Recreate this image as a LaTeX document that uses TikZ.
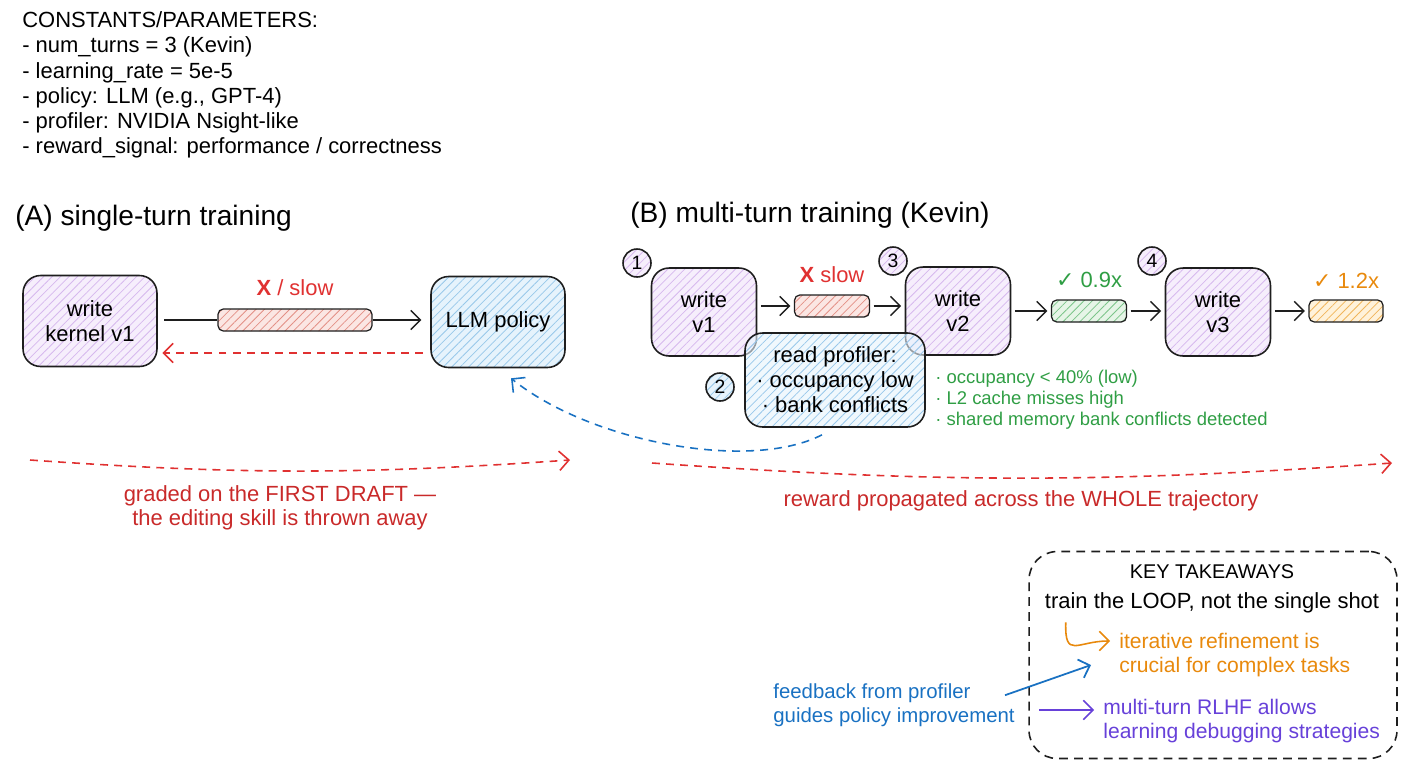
\documentclass[tikz,border=0pt]{standalone}
\usepackage{fontspec}
\setmainfont{Liberation Sans}
\newfontfamily\symfont{DejaVu Sans}
\usetikzlibrary{arrows.meta, positioning, calc, patterns.meta}
\definecolor{ink}{HTML}{1E1E1E}
\definecolor{bad}{HTML}{C92A2A}
\definecolor{alarm}{HTML}{E03131}
\definecolor{good}{HTML}{2F9E44}
\definecolor{warm}{HTML}{E8890C}
\definecolor{cool}{HTML}{1971C2}
\definecolor{violet}{HTML}{6741D9}
\definecolor{palepurple}{HTML}{F6EEFC}
\definecolor{hatchpurple}{HTML}{D6B8EE}
\definecolor{paleblue}{HTML}{E6F3FC}
\definecolor{hatchblue}{HTML}{98C8EA}
\definecolor{palered}{HTML}{FBE6E3}
\definecolor{hatchred}{HTML}{E39086}
\definecolor{palegreen}{HTML}{E6F5E7}
\definecolor{hatchgreen}{HTML}{7CC58A}
\definecolor{paleorange}{HTML}{FFF2DA}
\definecolor{hatchorange}{HTML}{F1B55A}

\begin{document}
\begin{tikzpicture}[x=0.02cm, y=-0.02cm,
  box/.style={draw=ink, line width=0.9pt, rounded corners=10pt, align=center,
              font=\fontsize{12.5}{14.3}\selectfont,
              minimum width=2.1cm, minimum height=1.76cm},
  hatch/.style 2 args={preaction={fill=#1},
              pattern={Lines[angle=45,distance=3.4pt,line width=0.45pt]},
              pattern color=#2},
  bar/.style={draw=ink, line width=0.7pt, rounded corners=3pt, inner sep=0pt,
              minimum width=1.5cm, minimum height=0.44cm},
  badge/.style={circle, draw=ink, line width=0.9pt, minimum size=0.56cm,
              inner sep=0pt, font=\fontsize{11}{13}\selectfont},
  arr/.style={-{Straight Barb[length=5.5pt,width=11pt]}, line width=0.8pt},
  dashy/.style={dash pattern=on 4.5pt off 3.5pt, line width=0.9pt},
  note/.style={inner sep=0pt, align=left, font=\fontsize{12}{13.6}\selectfont}
]
  \useasboundingbox (0,0) rectangle (1408,768);

  % Constants
  \node[note, anchor=west, font=\fontsize{12.5}{14.3}\selectfont] (consts) at (22,85)
        {CONSTANTS/PARAMETERS:\\- num\_turns = 3 (Kevin)\\- learning\_rate = 5e-5\\
         - policy: LLM (e.g., GPT-4)\\- profiler: NVIDIA Nsight-like\\
         - reward\_signal: performance / correctness};

  % (A) single-turn
  \node[anchor=west, inner sep=0pt, font=\fontsize{16}{19}\selectfont] (titleA) at (15,218)
        {(A) single-turn training};
  \node[box, hatch={palepurple}{hatchpurple}, minimum width=2.68cm, minimum height=1.82cm]
        (kernel) at (90,321) {write\\kernel v1};
  \node[box, hatch={paleblue}{hatchblue}, minimum width=2.68cm, minimum height=1.82cm]
        (llm) at (498,322) {LLM policy};
  \node[bar, hatch={palered}{hatchred}, minimum width=3.08cm] (barA) at (295,320) {};
  \node[above=0.12cm of barA, text=alarm, font=\fontsize{12.5}{14}\selectfont] (slowA)
        {\textbf{X} / slow};
  \draw[line width=0.8pt, ink, shorten <=4pt] (kernel.east |- barA) -- (barA.west);
  \draw[arr, ink, shorten >=5pt] (barA.east) -- (llm.west |- barA);
  \draw[arr, alarm, dashy] ($(llm.west)+(-7,31)$) -- ($(kernel.east)+(5,32)$);

  % (B) multi-turn
  \node[anchor=west, inner sep=0pt, font=\fontsize{16}{19}\selectfont] (titleB) at (630,215)
        {(B) multi-turn training (Kevin)};
  \node[box, hatch={palepurple}{hatchpurple}] (v1) at (704,312) {write\\v1};
  \node[box, hatch={palepurple}{hatchpurple}] (v2) at (958,311) {write\\v2};
  \node[box, hatch={palepurple}{hatchpurple}] (v3) at (1218,312) {write\\v3};
  \node[bar, hatch={palered}{hatchred}] (barB) at (832,306) {};
  \node[bar, hatch={palegreen}{hatchgreen}] (barC) at (1089,311) {};
  \node[bar, hatch={paleorange}{hatchorange}, minimum width=1.48cm] (barD) at (1346,311) {};
  \node[above=0.1cm of barB, text=alarm, font=\fontsize{12.5}{14}\selectfont] (slowB)
        {\textbf{X} slow};
  \node[above=0.1cm of barC, text=good, font=\fontsize{12.5}{14}\selectfont] (gainC)
        {{\symfont ✓} 0.9x};
  \node[above=0.1cm of barD, text=warm, font=\fontsize{12.5}{14}\selectfont] (gainD)
        {{\symfont ✓} 1.2x};
  \draw[arr, ink, shorten <=2pt, shorten >=2pt] (v1.east |- barB) -- (barB.west);
  \draw[arr, ink, shorten <=2pt, shorten >=2pt] (barB.east) -- (v2.west |- barB);
  \draw[arr, ink, shorten <=2pt, shorten >=2pt] (v2.east) -- (barC.west);
  \draw[arr, ink, shorten <=2pt, shorten >=2pt] (barC.east) -- (v3.west |- barC);
  \draw[arr, ink, shorten <=2pt, shorten >=2pt] (v3.east |- barD) -- (barD.west);

  % profiler readout
  \node[box, preaction={fill=paleblue, fill opacity=0.6},
        pattern={Lines[angle=45,distance=3.4pt,line width=0.45pt]}, pattern color=hatchblue,
        minimum width=3.6cm, minimum height=1.88cm] (profiler) at (835,380)
        {read profiler:\\· occupancy low\\· bank conflicts};
  \node[note, anchor=west, text=good, font=\fontsize{10.5}{11.9}\selectfont] (metrics) at (935,400)
        {· occupancy < 40\% (low)\\· L2 cache misses high\\· shared memory bank conflicts detected};

  % step badges
  \node[badge, hatch={palepurple}{hatchpurple}] (n1) at (637,263) {1};
  \node[badge, hatch={paleblue}{hatchblue}] (n2) at (720,387) {2};
  \node[badge, hatch={palepurple}{hatchpurple}] (n3) at (893,261) {3};
  \node[badge, hatch={palepurple}{hatchpurple}] (n4) at (1152,261) {4};

  \draw[arr, cool, dashy] ($(profiler.south)+(-13,7)$)
        .. controls (750,472) and (590,442) .. ($(llm.south)+(13,10)$);

  % reward signals
  \coordinate (gA1) at (30,460);
  \coordinate (gA2) at (570,460);
  \draw[arr, alarm, dashy] (gA1) to[bend right=4] (gA2);
  \node[text=bad, align=center, font=\fontsize{12.5}{13.6}\selectfont] (gradedA) at (280,508)
        {graded on the FIRST DRAFT —\\the editing skill is thrown away};
  \coordinate (gB1) at (652,463);
  \coordinate (gB2) at (1392,463);
  \draw[arr, alarm, dashy] (gB1) to[bend right=4] (gB2);
  \node[text=bad, font=\fontsize{12.5}{13.6}\selectfont] (rewardB) at (1021,501)
        {reward propagated across the WHOLE trajectory};

  % Takeaways
  \node[draw=ink, dash pattern=on 5pt off 3.5pt, line width=0.9pt, rounded corners=16pt,
        minimum width=7.36cm, minimum height=4.14cm] (keybox) at (1213,655) {};
  \node[font=\fontsize{11.3}{13}\selectfont] (keyhead) at (1212,572) {KEY TAKEAWAYS};
  \node[font=\fontsize{12.5}{14}\selectfont] (loop) at (1212,603)
        {train the LOOP, not the single shot};
  \node[note, anchor=west, text=warm] (iter) at (1119,655)
        {iterative refinement is\\crucial for complex tasks};
  \node[note, anchor=west, text=violet] (rlhf) at (1103,721)
        {multi-turn RLHF allows\\learning debugging strategies};
  \node[note, anchor=west, text=cool, font=\fontsize{11.6}{13.6}\selectfont] (feedback) at (773,705)
        {feedback from profiler\\guides policy improvement};
  \draw[arr, warm, line width=0.9pt] ($(loop.south west)+(27,3)$)
        .. controls ($(loop.south west)+(26,40)$) and ($(iter.west)+(-42,-14)$) .. ($(iter.west)+(-9,-14)$);
  \draw[arr, cool, line width=1pt] ($(feedback.north east)+(-10,12)$) -- ($(iter.west)+(-28,10)$);
  \draw[arr, violet, line width=0.9pt] ($(feedback.east)+(24,5)$) -- ($(rlhf.west)+(-9,-11)$);
\end{tikzpicture}
\end{document}
